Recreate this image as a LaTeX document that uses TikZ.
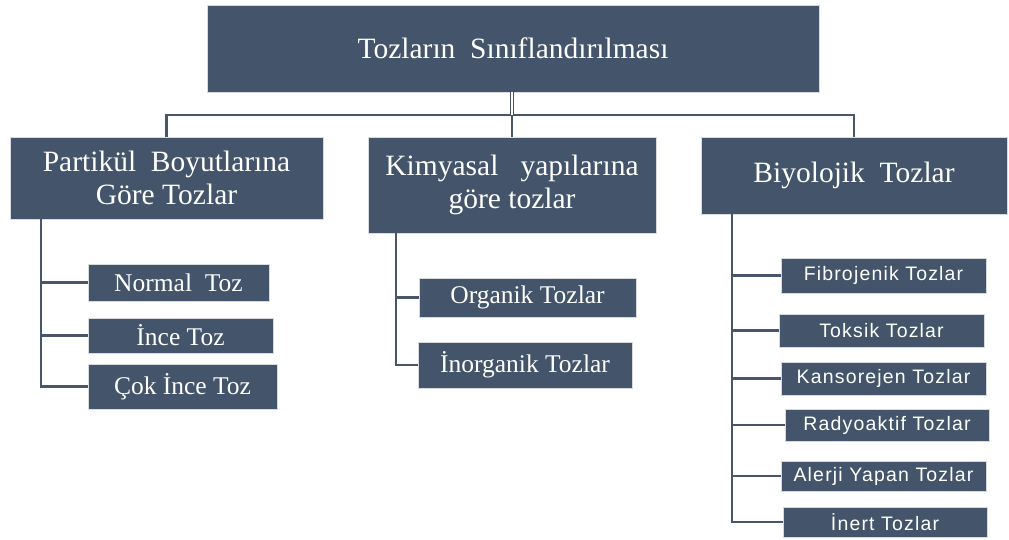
\documentclass[tikz,border=0pt]{standalone}
\usepackage{fontspec}
\setmainfont{Liberation Serif}
\newfontfamily\smallsans[LetterSpace=6]{Liberation Sans}
\definecolor{boxfill}{RGB}{68,84,106}
\definecolor{boxedge}{RGB}{215,218,222}
\definecolor{linecol}{RGB}{72,85,106}
\tikzset{
  box/.style={rectangle, fill=boxfill, draw=boxedge, line width=1pt, text=white,
    inner sep=0pt, outer sep=0pt, anchor=north west, align=center},
  bigtxt/.style={font=\fontsize{29.5}{33}\selectfont},
  midtxt/.style={font=\fontsize{25.5}{30}\selectfont},
  sanstxt/.style={font=\smallsans\fontsize{19.5}{22}\selectfont},
  conn/.style={draw=linecol, line width=2.3pt},
  dconn/.style={draw=linecol, line width=1.5pt, double=white, double distance=1.4pt}
}
\newcommand{\bx}[7]{% name, x1, y1, x2, y2, style, text
  \pgfmathsetmacro{\bw}{#4-#2}\pgfmathsetmacro{\bh}{#5-#3}
  \node[box,#6,minimum width=\bw pt,minimum height=\bh pt] (#1) at (#2,#3) {#7};}
\begin{document}
\begin{tikzpicture}[x=1pt,y=-1pt]
\useasboundingbox (0,0) rectangle (1009,539);
% boxes
\bx{title}{207}{5}{819}{92}{bigtxt}{Tozların\ \ Sınıflandırılması}
\bx{p}{10}{137}{323}{219}{bigtxt}{Partikül\ \ Boyutlarına\\Göre Tozlar}
\bx{k}{368}{137}{656}{233}{bigtxt}{Kimyasal\ \ \ yapılarına\\göre tozlar}
\bx{b}{701}{137}{1007}{214}{bigtxt}{Biyolojik\ \ Tozlar}
\bx{n1}{88}{264}{269}{301}{midtxt}{Normal\ \ Toz}
\bx{n2}{88}{318}{273}{353}{midtxt}{İnce Toz}
\bx{n3}{88}{364}{277}{409}{midtxt}{Çok İnce Toz}
\bx{o1}{419}{278}{636}{317}{midtxt}{Organik\ Tozlar}
\bx{o2}{418}{342}{632}{388}{midtxt}{İnorganik Tozlar}
\bx{f1}{781}{258}{986}{293}{sanstxt}{Fibrojenik Tozlar}
\bx{f2}{779}{314}{984}{347}{sanstxt}{Toksik Tozlar}
\bx{f3}{781}{362}{986}{395}{sanstxt}{Kansorejen Tozlar}
\bx{f4}{785}{409}{989}{441}{sanstxt}{Radyoaktif Tozlar}
\bx{f5}{781}{461}{986}{491}{sanstxt}{Alerji Yapan Tozlar}
\bx{f6}{783}{507}{987}{537}{sanstxt}{İnert Tozlar}
% top level connectors
\coordinate (bus) at (512,115);
\draw[conn] (p.north) |- (bus) -| (b.north);
\draw[conn] (bus) -- (k.north -| bus);
\draw[dconn] (title.south -| bus) -- (bus);
% trunks
\coordinate (pt) at (41,219);
\coordinate (kt) at (396,233);
\coordinate (bt) at (732,214);
\foreach \c in {n1,n2,n3} \draw[conn] (pt) |- (\c.west);
\foreach \c in {o1,o2} \draw[conn] (kt) |- (\c.west);
\foreach \c in {f1,f2,f3,f4,f5,f6} \draw[conn] (bt) |- (\c.west);
\end{tikzpicture}
\end{document}
